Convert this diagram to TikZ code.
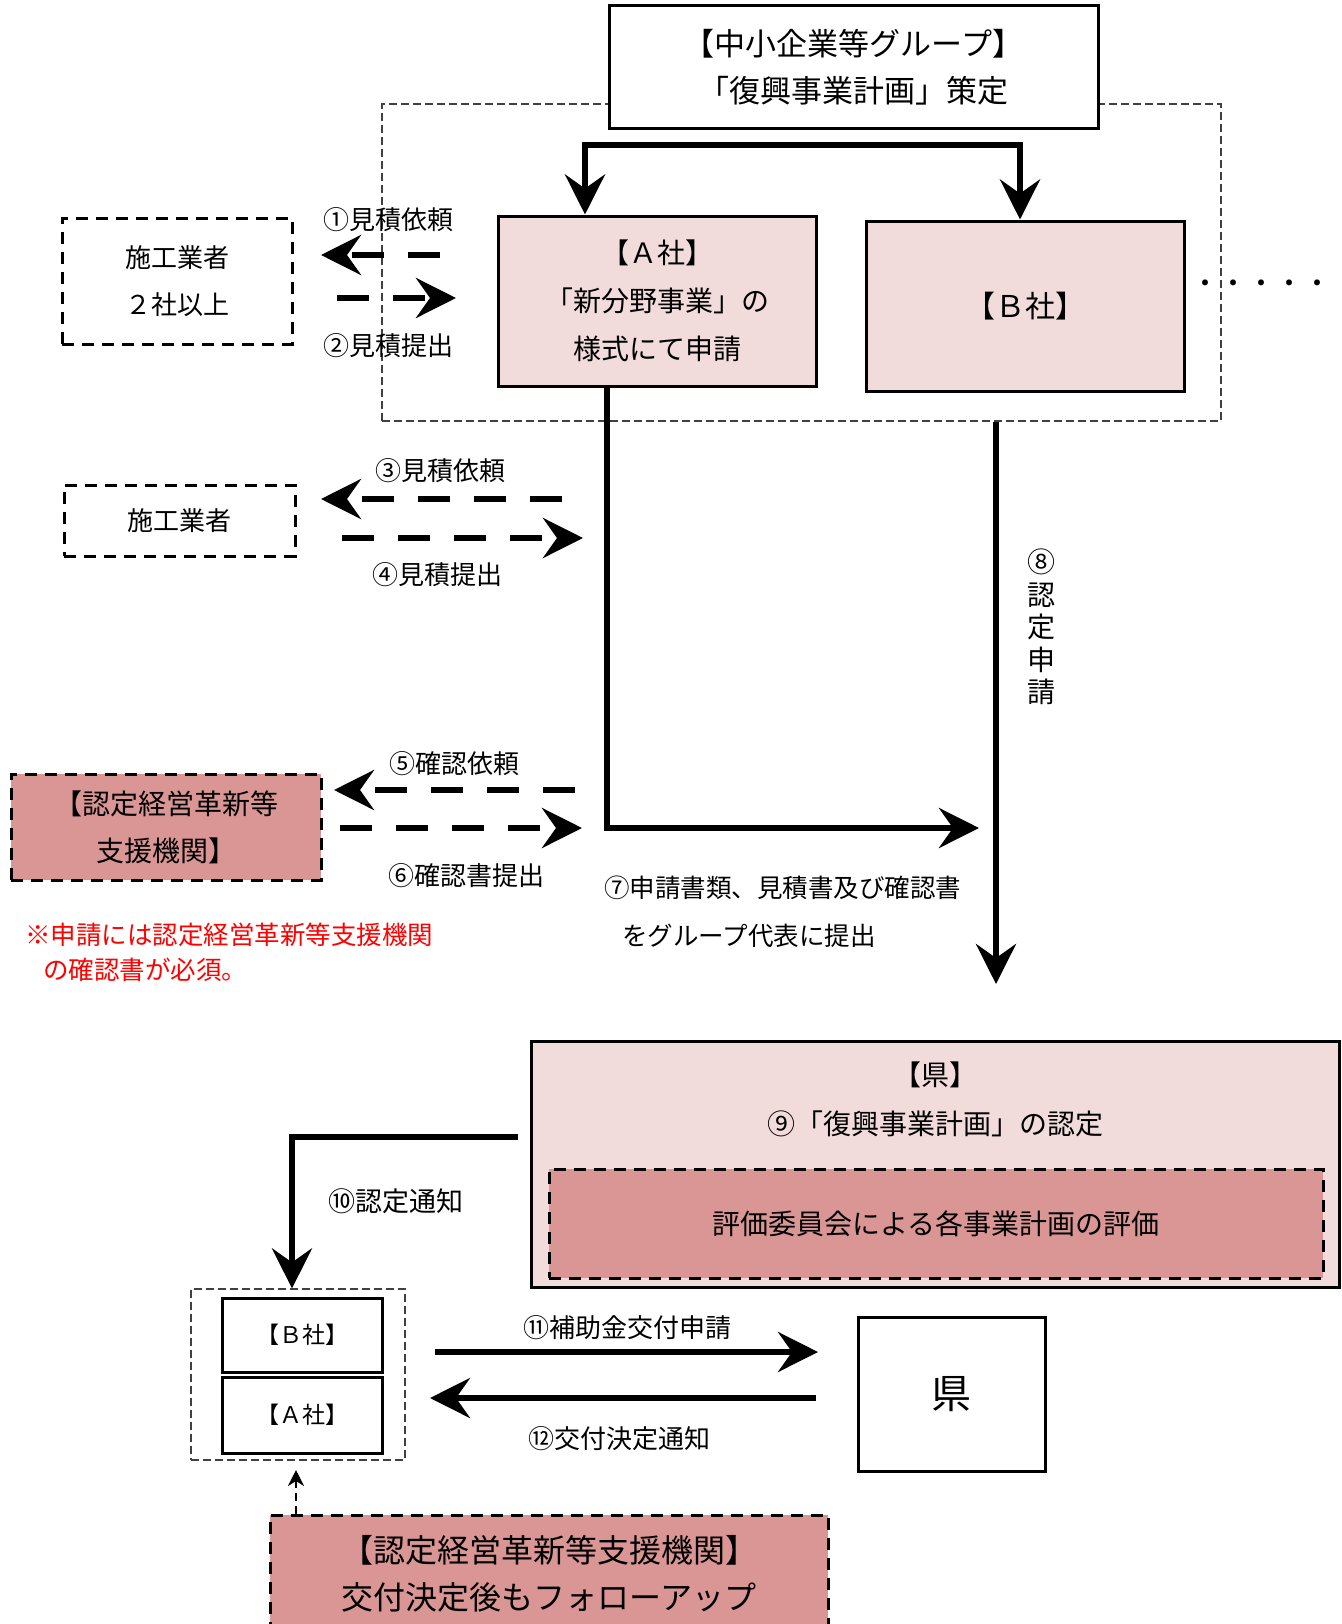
\documentclass[tikz,border=0pt]{standalone}
\usepackage{fontspec}
\setmainfont{Noto Sans CJK JP}
\usetikzlibrary{arrows.meta}
\definecolor{pinkL}{HTML}{F2DCDB}
\definecolor{pinkD}{HTML}{D99694}
\newcommand\setfs[2]{\fontsize{#1}{#2}\selectfont}
\tikzset{
  box/.style={draw, line width=3pt, inner sep=0pt, align=center},
  dbox/.style={box, dash pattern=on 12pt off 8pt},
  grpbox/.style={draw=black!75, line width=1.2pt, dash pattern=on 8pt off 4pt, inner sep=0pt},
  bigarrow/.style={line width=6pt, line join=miter, -{Stealth[length=40pt,width=40pt,inset=14pt]}},
  dasharrow/.style={bigarrow, dash pattern=on 32pt off 24pt},
  smallarrow/.style={line width=2pt, dash pattern=on 8pt off 5pt, -{Stealth[length=16pt,width=16pt,inset=5pt]}},
  lbl/.style={font=\setfs{26}{30}, inner sep=0pt}
}
\begin{document}
\begin{tikzpicture}[x=1pt,y=-1pt]
\clip (0,0) rectangle (1341,1624);
\fill[white] (0,0) rectangle (1341,1624);
% group frame and top box
\node[grpbox, minimum width=839pt, minimum height=317pt] (grp) at (801.5,262.5) {};
\node[box, fill=white, minimum width=489pt, minimum height=123pt, font=\setfs{31}{47}] (top) at (853.5,67.5) {【中小企業等グループ】\\「復興事業計画」策定};
\node[box, fill=pinkL, minimum width=318pt, minimum height=170pt, font=\setfs{28}{48}] (A) at (657,301) {【Ａ社】\\「新分野事業」の\\様式にて申請};
\node[box, fill=pinkL, minimum width=318pt, minimum height=170pt, font=\setfs{30}{40}] (B) at (1025,306) {【Ｂ社】};
\node[font=\setfs{28}{28}, inner sep=0pt] (dots) at (1261,287) {・・・・・};
% contractors
\node[dbox, minimum width=230pt, minimum height=126pt, font=\setfs{26}{47}] (sekou1) at (177,281) {施工業者\\２社以上};
\node[dbox, minimum width=231pt, minimum height=71pt, font=\setfs{26}{30}] (sekou2) at (179.5,520.5) {施工業者};
\node[dbox, fill=pinkD, minimum width=310pt, minimum height=106pt, font=\setfs{28}{47}] (shien1) at (166,827) {【認定経営革新等\\支援機関】};
% prefecture
\node[box, fill=pinkL, minimum width=808pt, minimum height=246pt] (ken) at (935,1164) {};
\node[lbl, font=\setfs{28}{30}] (kenT) at (935,1075) {【県】};
\node[lbl, font=\setfs{28}{30}] (kenN) at (935,1124) {⑨「復興事業計画」の認定};
\node[dbox, fill=pinkD, minimum width=774pt, minimum height=109pt, font=\setfs{28}{30}] (eval) at (936,1223.5) {評価委員会による各事業計画の評価};
% bottom group
\node[grpbox, minimum width=214pt, minimum height=171pt] (g2) at (298,1374.5) {};
\node[box, fill=white, minimum width=160pt, minimum height=74pt, font=\setfs{23}{25}] (sB) at (302,1335) {【Ｂ社】};
\node[box, fill=white, minimum width=160pt, minimum height=76pt, font=\setfs{23}{25}] (sA) at (302,1415) {【Ａ社】};
\node[box, fill=white, minimum width=187pt, minimum height=154pt, font=\setfs{40}{44}] (ken2) at (951.5,1394) {県};
\node[dbox, fill=pinkD, minimum width=558pt, minimum height=117pt, font=\setfs{32}{47}] (shien2) at (549,1573.5) {【認定経営革新等支援機関】\\交付決定後もフォローアップ};
% top arrows
\coordinate (bar1) at (585,145);
\coordinate (bar2) at (1020,145);
\draw[bigarrow] (bar2) -- (bar1) -- (bar1 |- A.north);
\draw[bigarrow] (bar1) -- (bar2) -- (bar2 |- B.north);
% estimate arrows
\coordinate (r1a) at (440,255); \coordinate (r1b) at (321,255);
\coordinate (r2a) at (337,298); \coordinate (r2b) at (456,298);
\coordinate (r3a) at (562,499); \coordinate (r3b) at (321,499);
\coordinate (r4a) at (342,538); \coordinate (r4b) at (583,538);
\coordinate (r5a) at (575,790); \coordinate (r5b) at (334,790);
\coordinate (r6a) at (340,828); \coordinate (r6b) at (582,828);
\draw[dasharrow] (r1a) -- (r1b);
\draw[dasharrow] (r2a) -- (r2b);
\draw[dasharrow] (r3a) -- (r3b);
\draw[dasharrow] (r4a) -- (r4b);
\draw[dasharrow] (r5a) -- (r5b);
\draw[dasharrow] (r6a) -- (r6b);
\node[lbl] (l1) at (388,220) {①見積依頼};
\node[lbl] (l2) at (388,346) {②見積提出};
\node[lbl] (l3) at (440,471) {③見積依頼};
\node[lbl] (l4) at (437,575) {④見積提出};
\node[lbl] (l5) at (454,764) {⑤確認依頼};
\node[lbl] (l6) at (466,876) {⑥確認書提出};
% A to group representative
\coordinate (a7) at (607,828);
\coordinate (a7e) at (979,828);
\draw[bigarrow] (A.south -| a7) -- (a7) -- (a7e);
\node[lbl, font=\setfs{25.5}{30}, anchor=west] (l7a) at (604,888) {⑦申請書類、見積書及び確認書};
\node[lbl, font=\setfs{25.5}{30}, anchor=west] (l7b) at (622,936) {をグループ代表に提出};
% B down
\coordinate (b8) at (996,984);
\draw[bigarrow] (grp.south -| b8) -- (b8);
\node[lbl, font=\setfs{28}{32.5}, align=center] (l8) at (1041,627) {⑧\\認\\定\\申\\請};
% red note
\node[lbl, font=\setfs{25.5}{35}, text=red, align=left, anchor=west] (note) at (25,952.5) {※申請には認定経営革新等支援機関\\\hspace*{18pt}の確認書が必須。};
% notification
\coordinate (k10) at (518,1137);
\coordinate (c10) at (292,1137);
\draw[bigarrow] (k10) -- (c10) -- (c10 |- g2.north);
\node[lbl, font=\setfs{27}{30}] (l10) at (396,1201) {⑩認定通知};
% subsidy
\coordinate (s11a) at (435,1352); \coordinate (s11b) at (818,1352);
\coordinate (s12a) at (816,1398); \coordinate (s12b) at (430,1398);
\draw[bigarrow] (s11a) -- (s11b);
\draw[bigarrow] (s12a) -- (s12b);
\node[lbl, font=\setfs{26}{30}] (l11) at (627,1328) {⑪補助金交付申請};
\node[lbl, font=\setfs{26}{30}] (l12) at (619,1439) {⑫交付決定通知};
% follow up
\coordinate (fu) at (296,1470);
\draw[smallarrow] (shien2.north -| fu) -- (fu);
\end{tikzpicture}
\end{document}
